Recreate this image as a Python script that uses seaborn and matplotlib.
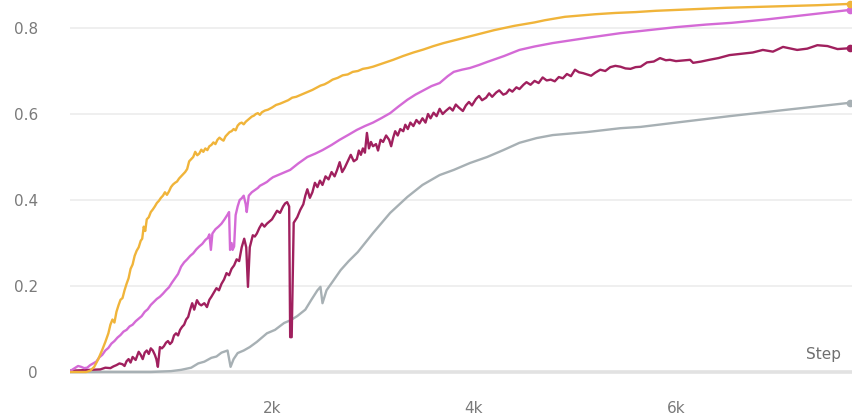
import matplotlib
matplotlib.use("Agg")
import matplotlib.pyplot as plt
import pandas as pd
import seaborn as sns

# Training curves: metric value against training step
gold_steps = [0, 100, 160, 200, 240, 280, 320, 350, 380, 400,
              420, 440, 460, 480, 500, 520, 540, 560, 580, 600,
              620, 640, 660, 680, 700, 715, 730, 745, 760, 780,
              800, 820, 840, 860, 880, 900, 920, 940, 960, 980,
              1000, 1020, 1040, 1060, 1080, 1100, 1120, 1140, 1160, 1180,
              1200, 1220, 1240, 1260, 1280, 1300, 1320, 1340, 1360, 1380,
              1400, 1420, 1440, 1460, 1480, 1500, 1520, 1540, 1560, 1580,
              1600, 1620, 1640, 1660, 1680, 1700, 1720, 1740, 1760, 1780,
              1800, 1820, 1840, 1860, 1880, 1900, 1930, 1960, 2000, 2040,
              2080, 2120, 2160, 2200, 2240, 2280, 2320, 2360, 2400, 2440,
              2480, 2520, 2560, 2600, 2650, 2700, 2750, 2800, 2850, 2900,
              2950, 3000, 3100, 3200, 3300, 3400, 3500, 3600, 3700, 3800,
              3900, 4000, 4100, 4200, 4300, 4400, 4500, 4600, 4700, 4800,
              4900, 5000, 5200, 5400, 5600, 5800, 6000, 6200, 6500, 6800,
              7100, 7400, 7720]
gold_vals = [0.0, 0.0, 0.0, 0.003, 0.012, 0.03, 0.052, 0.07, 0.09, 0.11,
             0.122, 0.115, 0.14, 0.155, 0.168, 0.172, 0.19, 0.205, 0.218, 0.24,
             0.25, 0.27, 0.282, 0.29, 0.305, 0.31, 0.338, 0.328, 0.355, 0.36,
             0.372, 0.378, 0.385, 0.393, 0.398, 0.405, 0.41, 0.418, 0.412, 0.42,
             0.43, 0.436, 0.44, 0.443, 0.45, 0.455, 0.46, 0.465, 0.472, 0.49,
             0.495, 0.50, 0.512, 0.504, 0.508, 0.517, 0.512, 0.52, 0.516, 0.525,
             0.528, 0.534, 0.53, 0.54, 0.545, 0.541, 0.538, 0.548, 0.553, 0.558,
             0.56, 0.565, 0.562, 0.573, 0.578, 0.58, 0.576, 0.582, 0.586, 0.59,
             0.594, 0.596, 0.60, 0.602, 0.598, 0.604, 0.608, 0.61, 0.615, 0.621,
             0.624, 0.628, 0.632, 0.638, 0.64, 0.644, 0.648, 0.652, 0.656, 0.661,
             0.666, 0.669, 0.674, 0.68, 0.684, 0.69, 0.692, 0.698, 0.70, 0.705,
             0.707, 0.71, 0.718, 0.726, 0.735, 0.743, 0.75, 0.758, 0.765, 0.771,
             0.777, 0.783, 0.789, 0.795, 0.80, 0.805, 0.809, 0.813, 0.818, 0.822,
             0.826, 0.828, 0.832, 0.835, 0.837, 0.840, 0.842, 0.844, 0.847, 0.849,
             0.851, 0.853, 0.856]

violet_steps = [0, 40, 80, 110, 140, 170, 200, 230, 260, 290,
                320, 350, 380, 410, 440, 470, 500, 530, 560, 590,
                620, 650, 680, 710, 740, 770, 800, 830, 860, 890,
                920, 950, 980, 1010, 1040, 1070, 1100, 1130, 1160, 1190,
                1220, 1250, 1280, 1310, 1340, 1365, 1380, 1395, 1410, 1440,
                1470, 1500, 1530, 1560, 1575, 1585, 1600, 1610, 1625, 1640,
                1660, 1680, 1700, 1720, 1740, 1750, 1770, 1800, 1830, 1860,
                1880, 1920, 1950, 1980, 2010, 2060, 2100, 2140, 2180, 2260,
                2350, 2430, 2500, 2590, 2670, 2760, 2840, 2920, 3000, 3080,
                3170, 3250, 3340, 3420, 3500, 3580, 3660, 3740, 3800, 3880,
                3960, 4050, 4130, 4300, 4450, 4600, 4780, 4950, 5120, 5300,
                5450, 5650, 6000, 6300, 6550, 6900, 7200, 7500, 7720]
violet_vals = [0.002, 0.008, 0.014, 0.012, 0.009, 0.01, 0.016, 0.02, 0.024, 0.034,
               0.04, 0.05, 0.056, 0.066, 0.072, 0.08, 0.086, 0.094, 0.098, 0.106,
               0.11, 0.118, 0.124, 0.13, 0.14, 0.146, 0.156, 0.163, 0.17, 0.175,
               0.182, 0.19, 0.197, 0.208, 0.218, 0.228, 0.245, 0.255, 0.262, 0.27,
               0.276, 0.285, 0.292, 0.298, 0.307, 0.312, 0.32, 0.284, 0.322, 0.332,
               0.338, 0.345, 0.355, 0.366, 0.372, 0.284, 0.30, 0.284, 0.292, 0.365,
               0.385, 0.40, 0.404, 0.41, 0.39, 0.372, 0.41, 0.418, 0.423, 0.428,
               0.433, 0.438, 0.442, 0.448, 0.453, 0.458, 0.462, 0.466, 0.47, 0.485,
               0.50, 0.508, 0.516, 0.528, 0.54, 0.552, 0.563, 0.572, 0.58, 0.59,
               0.602, 0.617, 0.633, 0.645, 0.655, 0.665, 0.672, 0.688, 0.698, 0.703,
               0.707, 0.714, 0.721, 0.735, 0.749, 0.757, 0.765, 0.771, 0.777, 0.783,
               0.788, 0.793, 0.802, 0.808, 0.812, 0.820, 0.828, 0.836, 0.842]

crimson_steps = [0, 100, 200, 300, 350, 400, 430, 460, 490, 520,
                 540, 560, 580, 600, 620, 650, 680, 700, 720, 740,
                 760, 780, 800, 820, 840, 855, 870, 890, 910, 930,
                 950, 970, 990, 1010, 1030, 1050, 1070, 1090, 1110, 1130,
                 1150, 1170, 1190, 1210, 1230, 1257, 1280, 1300, 1330, 1356,
                 1380, 1400, 1425, 1450, 1475, 1500, 1525, 1550, 1575, 1600,
                 1625, 1650, 1675, 1700, 1725, 1745, 1762, 1780, 1810, 1830,
                 1850, 1875, 1900, 1925, 1950, 1975, 2000, 2025, 2050, 2080,
                 2110, 2130, 2150, 2170, 2180, 2195, 2215, 2250, 2280, 2310,
                 2330, 2350, 2375, 2400, 2425, 2450, 2475, 2500, 2530, 2560,
                 2590, 2620, 2645, 2670, 2695, 2720, 2750, 2780, 2810, 2840,
                 2860, 2880, 2900, 2920, 2940, 2960, 2980, 3000, 3030, 3050,
                 3075, 3100, 3130, 3160, 3180, 3200, 3220, 3245, 3270, 3300,
                 3320, 3345, 3370, 3400, 3430, 3460, 3490, 3520, 3545, 3570,
                 3600, 3630, 3660, 3690, 3720, 3760, 3790, 3820, 3850, 3890,
                 3920, 3950, 3980, 4020, 4050, 4080, 4120, 4150, 4180, 4220,
                 4250, 4290, 4320, 4350, 4380, 4420, 4450, 4490, 4520, 4560,
                 4600, 4640, 4680, 4720, 4760, 4800, 4840, 4880, 4920, 4960,
                 5000, 5040, 5080, 5120, 5160, 5200, 5250, 5300, 5350, 5400,
                 5450, 5500, 5550, 5600, 5650, 5713, 5780, 5842, 5900, 5940,
                 6000, 6140, 6170, 6250, 6330, 6420, 6530, 6650, 6760, 6860,
                 6960, 7060, 7200, 7300, 7400, 7500, 7600, 7720]
crimson_vals = [0.003, 0.004, 0.005, 0.006, 0.01, 0.009, 0.013, 0.016, 0.02, 0.018,
                0.014, 0.025, 0.03, 0.022, 0.035, 0.028, 0.047, 0.04, 0.03, 0.045,
                0.05, 0.042, 0.055, 0.05, 0.04, 0.03, 0.012, 0.058, 0.055, 0.06,
                0.068, 0.072, 0.065, 0.07, 0.085, 0.09, 0.085, 0.098, 0.105, 0.11,
                0.122, 0.128, 0.145, 0.16, 0.145, 0.167, 0.158, 0.155, 0.16, 0.151,
                0.168, 0.175, 0.185, 0.195, 0.19, 0.205, 0.215, 0.23, 0.225, 0.24,
                0.248, 0.262, 0.258, 0.29, 0.31, 0.29, 0.198, 0.29, 0.318, 0.315,
                0.322, 0.335, 0.345, 0.338, 0.345, 0.35, 0.355, 0.365, 0.375, 0.37,
                0.385, 0.392, 0.395, 0.385, 0.081, 0.081, 0.347, 0.36, 0.377, 0.39,
                0.41, 0.425, 0.405, 0.418, 0.44, 0.43, 0.445, 0.435, 0.455, 0.448,
                0.465, 0.455, 0.47, 0.488, 0.465, 0.475, 0.49, 0.505, 0.49, 0.495,
                0.515, 0.505, 0.52, 0.51, 0.556, 0.52, 0.535, 0.525, 0.53, 0.515,
                0.54, 0.535, 0.55, 0.54, 0.525, 0.545, 0.56, 0.55, 0.565, 0.56,
                0.575, 0.565, 0.58, 0.572, 0.586, 0.578, 0.59, 0.58, 0.60, 0.59,
                0.603, 0.595, 0.612, 0.60, 0.607, 0.615, 0.608, 0.622, 0.615, 0.607,
                0.62, 0.628, 0.62, 0.635, 0.642, 0.632, 0.638, 0.648, 0.64, 0.65,
                0.655, 0.645, 0.648, 0.657, 0.652, 0.662, 0.658, 0.668, 0.674, 0.668,
                0.677, 0.672, 0.685, 0.678, 0.68, 0.676, 0.686, 0.683, 0.693, 0.688,
                0.703, 0.697, 0.695, 0.692, 0.689, 0.696, 0.703, 0.70, 0.709, 0.712,
                0.71, 0.706, 0.705, 0.709, 0.71, 0.72, 0.722, 0.73, 0.725, 0.726,
                0.723, 0.726, 0.719, 0.722, 0.726, 0.73, 0.737, 0.74, 0.743, 0.749,
                0.745, 0.756, 0.749, 0.752, 0.760, 0.758, 0.751, 0.753]

grey_steps = [0, 800, 1000, 1100, 1200, 1270, 1330, 1400, 1450, 1500,
              1560, 1590, 1620, 1660, 1720, 1780, 1850, 1950, 2030, 2120,
              2180, 2250, 2330, 2390, 2450, 2480, 2500, 2540, 2600, 2680,
              2760, 2850, 3000, 3170, 3340, 3490, 3660, 3800, 3960, 4130,
              4290, 4450, 4620, 4780, 5120, 5450, 5650, 6000, 6530, 7100,
              7720]
grey_vals = [0.0, 0.0, 0.002, 0.005, 0.01, 0.02, 0.024, 0.033, 0.036, 0.045,
             0.05, 0.012, 0.03, 0.044, 0.05, 0.058, 0.07, 0.09, 0.098, 0.114,
             0.12, 0.13, 0.145, 0.168, 0.19, 0.198, 0.16, 0.19, 0.21, 0.237,
             0.258, 0.279, 0.323, 0.37, 0.407, 0.435, 0.458, 0.47, 0.486, 0.50,
             0.516, 0.533, 0.544, 0.551, 0.558, 0.567, 0.570, 0.580, 0.595, 0.61,
             0.626]

series = [
    ("grey", grey_steps, grey_vals, "#a7b0b4"),
    ("crimson", crimson_steps, crimson_vals, "#a0205e"),
    ("violet", violet_steps, violet_vals, "#d46ad6"),
    ("gold", gold_steps, gold_vals, "#f0b43a"),
]
for name, s, v, _ in series:
    if len(s) != len(v):
        raise ValueError(f"{name}: {len(s)} steps vs {len(v)} values")

y_ticks = [0, 0.2, 0.4, 0.6, 0.8]
y_labels = ["0", "0.2", "0.4", "0.6", "0.8"]
x_ticks = [2000, 4000, 6000]
x_labels = ["2k", "4k", "6k"]

sns.set_style("white")
plt.rcParams["font.family"] = ["DejaVu Sans"]

fig = plt.figure(figsize=(8.52, 4.19), dpi=100)
ax = fig.add_axes([70 / 852, 36 / 419, 782 / 852, 383 / 419])

for name, steps, vals, color in series:
    df = pd.DataFrame({"step": steps, "value": vals})
    sns.lineplot(data=df, x="step", y="value", ax=ax, color=color, linewidth=1.7,
                 estimator=None, sort=True, zorder=3)
    ax.plot(df["step"].iloc[-1], df["value"].iloc[-1], "o", color=color, markersize=4.5,
            zorder=4, clip_on=False)

ax.set_xlim(0, 7743)
ax.set_ylim(-11 / 430, 372 / 430)

for t in y_ticks[1:]:
    ax.axhline(t, color="#efefef", linewidth=1.4, zorder=1)
ax.axhline(0, color="#e2e2e2", linewidth=2.6, zorder=1)

ax.set_yticks(y_ticks)
ax.set_yticklabels(y_labels)
ax.set_xticks(x_ticks)
ax.set_xticklabels(x_labels)
ax.tick_params(axis="y", length=0, pad=23, labelsize=11, labelcolor="#7a7a7a")
ax.tick_params(axis="x", direction="in", length=16.5, width=1.0, color="#e4e4e4",
               pad=13, labelsize=11, labelcolor="#7a7a7a")
ax.set_xlabel("")
ax.set_ylabel("")
for s in ax.spines.values():
    s.set_visible(False)

fig.text(841 / 852, 1 - 354 / 419, "Step", ha="right", va="center", fontsize=11,
         color="#6f6f6f")

fig.savefig("out.png", dpi=100)
